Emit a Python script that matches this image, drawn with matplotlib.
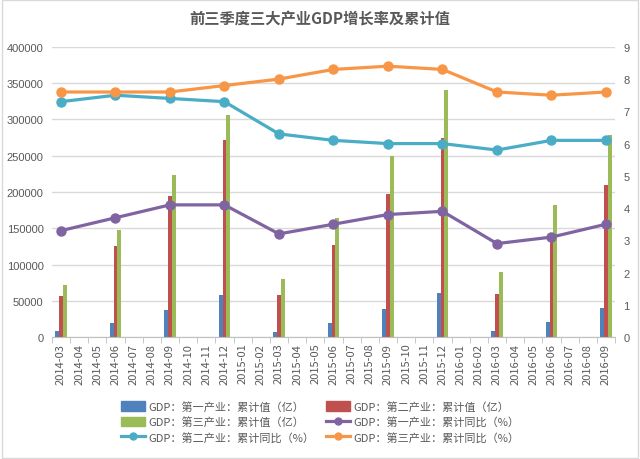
import numpy as np
import matplotlib.pyplot as plt
from matplotlib.lines import Line2D
from matplotlib.patches import Patch

plt.rcParams["font.family"] = ["Noto Sans CJK SC", "DejaVu Sans"]

# Monthly categories 2014-03 .. 2016-09
months = []
for y in (2014, 2015, 2016):
    for m in range(1, 13):
        if (y == 2014 and m < 3) or (y == 2016 and m > 9):
            continue
        months.append(f"{y}-{m:02d}")

quarters = ["2014-03", "2014-06", "2014-09", "2014-12",
            "2015-03", "2015-06", "2015-09", "2015-12",
            "2016-03", "2016-06", "2016-09"]

# cumulative values (亿)
gdp1 = [7770, 19000, 37300, 58000, 7700, 19700, 38100, 60200, 8300, 21100, 39500]
gdp2 = [56600, 125600, 194600, 271400, 58000, 127400, 197400, 274100, 59800, 138000, 209300]
gdp3 = [72200, 147700, 223600, 305500, 79600, 164700, 248900, 340000, 89200, 182700, 279000]

# cumulative y/y growth (%)
yoy1 = [3.3, 3.7, 4.1, 4.1, 3.2, 3.5, 3.8, 3.9, 2.9, 3.1, 3.5]
yoy2 = [7.3, 7.5, 7.4, 7.3, 6.3, 6.1, 6.0, 6.0, 5.8, 6.1, 6.1]
yoy3 = [7.6, 7.6, 7.6, 7.8, 8.0, 8.3, 8.4, 8.3, 7.6, 7.5, 7.6]

labels = ["GDP：第一产业：累计值（亿）", "GDP：第二产业：累计值（亿）",
          "GDP：第三产业：累计值（亿）", "GDP：第一产业：累计同比（%）",
          "GDP：第二产业：累计同比（%）", "GDP：第三产业：累计同比（%）"]

c_blue, c_red, c_green = "#4F81BD", "#C0504D", "#9BBB59"
c_purple, c_cyan, c_orange = "#8064A2", "#4BACC6", "#F79646"
txt = "#595959"

xq = np.array([months.index(q) for q in quarters])

fig = plt.figure(figsize=(6.4, 4.6), dpi=100)
ax = fig.add_axes([0.081, 0.265, 0.88, 0.631])
ax2 = ax.twinx()

w = 0.21
ax.bar(xq - w, gdp1, w, color=c_blue, zorder=2)
ax.bar(xq, gdp2, w, color=c_red, zorder=2)
ax.bar(xq + w, gdp3, w, color=c_green, zorder=2)

ax.set_ylim(0, 400000)
ax.set_yticks(np.arange(0, 400001, 50000))
ax.set_xlim(-0.5, len(months) - 0.5)
ax.grid(axis="y", color="#D9D9D9", lw=1, zorder=0)
ax.set_axisbelow(True)

ax.set_xticks(range(len(months)), labels=months, rotation=90)
ax.set_xticks(np.arange(-0.5, len(months)), minor=True)
ax.tick_params(axis="x", which="major", length=0, pad=4, labelsize=8, labelcolor=txt)
ax.tick_params(axis="x", which="minor", length=4, color="#BFBFBF")
ax.tick_params(axis="y", length=0, labelsize=8, labelcolor=txt, pad=6)

for lab in ax.get_yticklabels():
    lab.set_fontfamily(["Liberation Sans", "DejaVu Sans"])

for s in ["top", "left", "right"]:
    ax.spines[s].set_visible(False)
    ax2.spines[s].set_visible(False)
ax.spines["bottom"].set_color("#BFBFBF")
ax2.spines["bottom"].set_visible(False)

lw, ms = 2.3, 6.5
ax2.plot(xq, yoy1, color=c_purple, lw=lw, marker="o", ms=ms, zorder=3)
ax2.plot(xq, yoy2, color=c_cyan, lw=lw, marker="o", ms=ms, zorder=3)
ax2.plot(xq, yoy3, color=c_orange, lw=lw, marker="o", ms=ms, zorder=3)
ax2.set_ylim(0, 9)
ax2.set_yticks(range(0, 10))
ax2.tick_params(axis="y", length=0, labelsize=8, labelcolor=txt, pad=6)
for lab in ax2.get_yticklabels():
    lab.set_fontfamily(["Liberation Sans", "DejaVu Sans"])

fig.suptitle("前三季度三大产业GDP增长率及累计值", y=0.975, fontsize=11,
             fontweight="bold", color=txt)

h = [Patch(color=c_blue), Patch(color=c_red), Patch(color=c_green),
     Line2D([], [], color=c_purple, lw=lw, marker="o", ms=5),
     Line2D([], [], color=c_cyan, lw=lw, marker="o", ms=5),
     Line2D([], [], color=c_orange, lw=lw, marker="o", ms=5)]
order = [0, 2, 4, 1, 3, 5]
leg = fig.legend([h[i] for i in order], [labels[i] for i in order], ncol=2,
                 loc="center", bbox_to_anchor=(0.5, 0.081), frameon=False,
                 fontsize=8, handlelength=2.2, handleheight=0.9,
                 columnspacing=1.0, labelspacing=0.4, handletextpad=0.3)
for t in leg.get_texts():
    t.set_color(txt)

fig.patches.append(plt.Rectangle((0.003, 0.003), 0.994, 0.994, transform=fig.transFigure,
                                 fill=False, edgecolor="#D9D9D9", lw=1))

fig.savefig("out.png", dpi=100)
